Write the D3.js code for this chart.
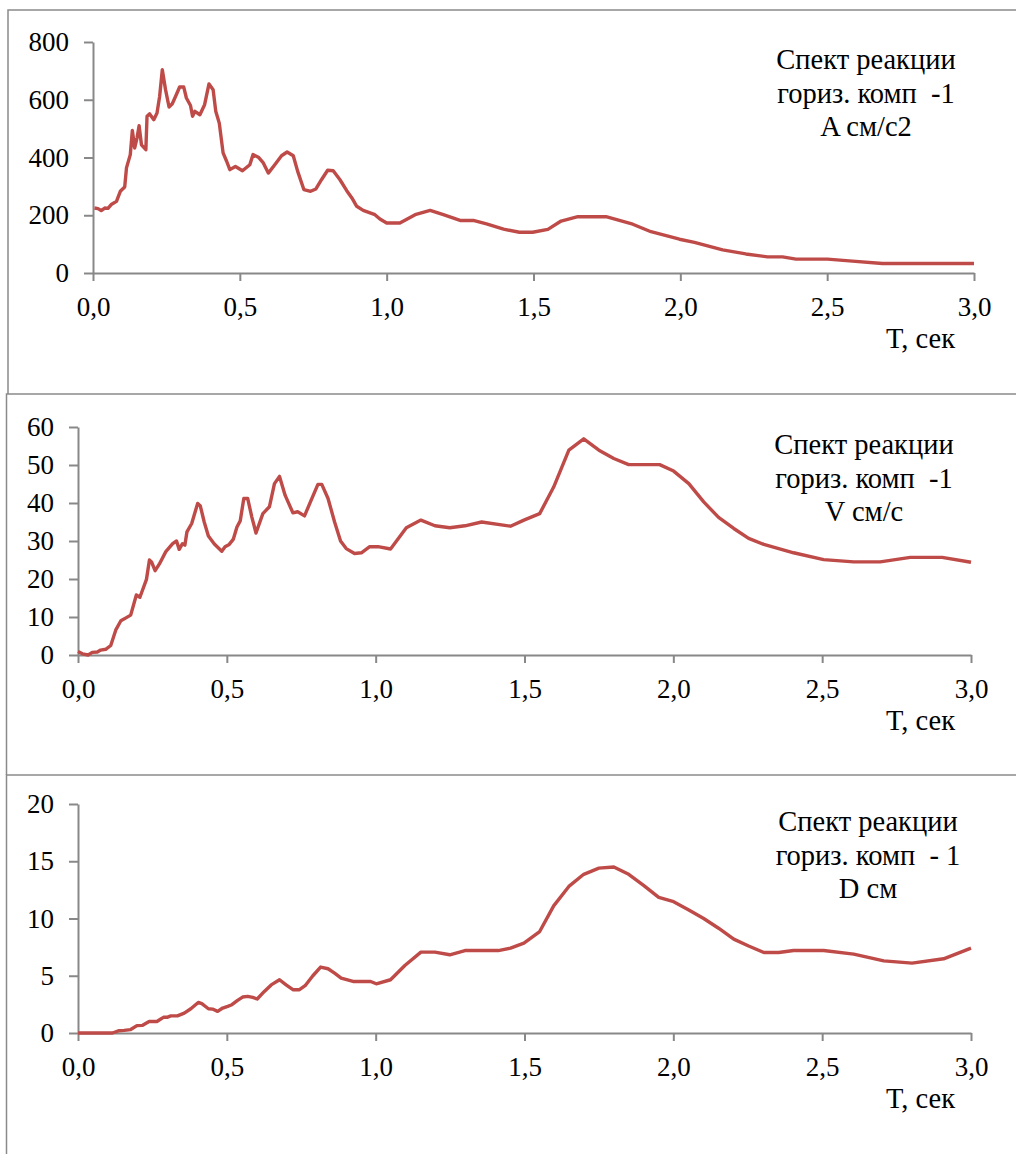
<!DOCTYPE html>
<html>
<head>
<meta charset="utf-8">
<script src="https://cdn.jsdelivr.net/npm/d3@7"></script>
<style>
  html, body { margin: 0; padding: 0; background: #fff; }
  svg { display: block; }
  text { font-family: "Liberation Serif", "Times New Roman", serif; fill: #000; }
</style>
</head>
<body>
<svg id="chart" width="1016" height="1154"></svg>
<script>
// ---------- DATA ----------
const xTickValues = [0, 0.5, 1.0, 1.5, 2.0, 2.5, 3.0];
const xTickLabels = ["0,0", "0,5", "1,0", "1,5", "2,0", "2,5", "3,0"];
const xAxisTitle = "T, сек";

const yTicksA = [0, 200, 400, 600, 800];
const yTicksV = [0, 10, 20, 30, 40, 50, 60];
const yTicksD = [0, 5, 10, 15, 20];

const titleA = ["Спект реакции", "гориз. комп  -1", "A см/с2"];
const titleV = ["Спект реакции", "гориз. комп  -1", "V см/с"];
const titleD = ["Спект реакции", "гориз. комп  - 1", "D см"];

// [period T (s), spectral value]
const spectrumA = [
  [0.005,225],[0.017,223],[0.028,216],[0.04,225],[0.051,224],[0.062,237],[0.08,248],[0.093,283],
  [0.108,298],[0.114,364],[0.127,410],[0.134,494],[0.142,433],[0.15,468],[0.157,510],[0.165,444],
  [0.18,427],[0.184,543],[0.193,551],[0.207,531],[0.218,554],[0.227,612],[0.236,704],[0.247,635],
  [0.259,575],[0.27,586],[0.284,618],[0.295,644],[0.309,644],[0.318,606],[0.332,580],[0.339,543],
  [0.347,560],[0.364,548],[0.38,583],[0.395,655],[0.409,635],[0.418,560],[0.43,519],[0.443,416],
  [0.455,387],[0.466,358],[0.485,369],[0.509,354],[0.534,375],[0.545,410],[0.563,401],[0.58,381],
  [0.597,346],[0.619,375],[0.642,406],[0.661,419],[0.682,406],[0.697,352],[0.718,289],[0.741,283],
  [0.759,291],[0.778,323],[0.799,356],[0.818,354],[0.841,323],[0.864,285],[0.884,256],[0.898,231],
  [0.92,217],[0.96,202],[0.977,187],[1.0,173],[1.045,173],[1.097,202],[1.148,217],[1.193,202],
  [1.25,182],[1.295,182],[1.34,170],[1.398,152],[1.452,141],[1.497,141],[1.549,151],[1.594,180],
  [1.651,195],[1.747,195],[1.838,169],[1.9,143],[1.997,117],[2.048,106],[2.144,80],[2.223,66],
  [2.297,56],[2.348,56],[2.394,48],[2.501,48],[2.586,41],[2.688,33],[3.0,33]
];

const spectrumV = [
  [0.0,0.9],[0.015,0.3],[0.034,0.0],[0.048,0.7],[0.065,0.8],[0.076,1.3],[0.093,1.5],[0.11,2.5],
  [0.127,6.6],[0.144,9.0],[0.164,9.9],[0.177,10.5],[0.196,15.8],[0.208,15.2],[0.23,19.9],[0.24,25.0],
  [0.247,24.5],[0.259,22.2],[0.273,23.9],[0.295,27.2],[0.318,29.3],[0.331,30.0],[0.34,27.8],[0.351,29.3],
  [0.359,28.9],[0.366,32.4],[0.382,34.6],[0.402,39.9],[0.411,39.2],[0.424,35.0],[0.438,31.3],[0.458,29.2],
  [0.483,27.3],[0.494,28.5],[0.508,29.1],[0.522,30.5],[0.534,33.7],[0.545,35.3],[0.557,41.2],[0.57,41.2],
  [0.584,36.3],[0.598,32.1],[0.621,37.2],[0.643,39.0],[0.66,45.1],[0.677,47.0],[0.696,42.0],[0.722,37.4],
  [0.738,37.7],[0.761,36.6],[0.783,40.7],[0.806,44.9],[0.819,44.9],[0.84,41.2],[0.862,35.0],[0.882,30.0],
  [0.901,28.0],[0.929,26.7],[0.952,26.9],[0.98,28.5],[1.008,28.5],[1.05,27.9],[1.103,33.5],[1.152,35.5],
  [1.199,34.0],[1.249,33.5],[1.3,34.0],[1.356,35.0],[1.453,33.9],[1.498,35.5],[1.551,37.2],[1.598,44.2],
  [1.649,53.9],[1.699,56.9],[1.75,53.9],[1.8,51.7],[1.85,50.1],[1.954,50.1],[2.001,48.4],[2.052,45.1],
  [2.102,40.3],[2.152,36.2],[2.203,33.3],[2.253,30.7],[2.304,29.1],[2.354,28.0],[2.404,26.9],[2.505,25.1],
  [2.606,24.5],[2.695,24.5],[2.796,25.7],[2.903,25.7],[3.0,24.4]
];

const spectrumD = [
  [0.0,0.0],[0.116,0.0],[0.138,0.2],[0.155,0.23],[0.177,0.3],[0.198,0.64],[0.217,0.67],[0.239,1.0],
  [0.265,1.0],[0.287,1.37],[0.299,1.37],[0.312,1.5],[0.334,1.5],[0.357,1.74],[0.379,2.12],[0.404,2.67],
  [0.416,2.56],[0.438,2.12],[0.452,2.09],[0.469,1.89],[0.486,2.18],[0.503,2.33],[0.517,2.47],[0.536,2.85],
  [0.553,3.14],[0.57,3.2],[0.587,3.11],[0.602,2.97],[0.626,3.63],[0.649,4.2],[0.677,4.65],[0.699,4.2],
  [0.722,3.78],[0.744,3.78],[0.763,4.13],[0.789,5.0],[0.815,5.76],[0.84,5.61],[0.862,5.23],[0.884,4.8],
  [0.924,4.5],[0.983,4.5],[1.002,4.3],[1.05,4.65],[1.098,5.9],[1.152,7.06],[1.199,7.06],[1.249,6.83],
  [1.3,7.2],[1.356,7.2],[1.412,7.2],[1.453,7.41],[1.498,7.85],[1.551,8.86],[1.598,11.1],[1.649,12.8],
  [1.699,13.86],[1.75,14.4],[1.8,14.5],[1.85,13.86],[1.9,12.9],[1.951,11.85],[2.001,11.47],[2.052,10.75],
  [2.102,10.0],[2.152,9.15],[2.203,8.2],[2.253,7.6],[2.304,7.03],[2.354,7.03],[2.404,7.2],[2.505,7.2],
  [2.606,6.89],[2.707,6.3],[2.802,6.1],[2.908,6.48],[3.0,7.41]
];

// ---------- LAYOUT ----------
const panels = [
  { data: spectrumA, yTicks: yTicksA, title: titleA,
    frame: { x: 8, y: 10, bottom: 394 },
    plot: { left: 93, right: 974, top: 42, bottom: 273 }, titleX: 866 },
  { data: spectrumV, yTicks: yTicksV, title: titleV,
    frame: { x: 6.5, y: 394, bottom: 775 },
    plot: { left: 78, right: 971, top: 427, bottom: 655 }, titleX: 864 },
  { data: spectrumD, yTicks: yTicksD, title: titleD,
    frame: { x: 6.5, y: 775, bottom: 1160 },
    plot: { left: 78, right: 971, top: 804, bottom: 1033 }, titleX: 868 }
];

const svg = d3.select("#chart");
const axisColor = "#888888";
const frameColor = "#8a8a8a";
const lineColor = "#BE4B48";
const tickFont = 27;
const titleFont = 28.5;
const fam = "Liberation Serif, Times New Roman, serif";

panels.forEach(p => {
  const g = svg.append("g");

  // frame (top + left edges visible, right edge beyond view)
  g.append("path")
    .attr("d", `M${p.frame.x},${p.frame.bottom} L${p.frame.x},${p.frame.y} L1030,${p.frame.y}`)
    .attr("fill", "none").attr("stroke", frameColor).attr("stroke-width", 1.5);

  const x = d3.scaleLinear().domain([0, 3]).range([p.plot.left, p.plot.right]);
  const yMax = p.yTicks[p.yTicks.length - 1];
  const y = d3.scaleLinear().domain([0, yMax]).range([p.plot.bottom, p.plot.top]);

  // Y axis
  const yAxis = d3.axisLeft(y).tickValues(p.yTicks).tickSize(9).tickPadding(15)
    .tickFormat(d => String(d)).tickSizeOuter(0);
  const gy = g.append("g").attr("transform", `translate(${p.plot.left},0)`).call(yAxis);
  gy.select(".domain").attr("stroke", axisColor).attr("stroke-width", 2);
  gy.selectAll(".tick line").attr("stroke", axisColor).attr("stroke-width", 2);
  gy.selectAll(".tick text").attr("font-size", tickFont).attr("font-family", fam).attr("fill", "#000");

  // X axis
  const xAxis = d3.axisBottom(x).tickValues(xTickValues).tickSize(8).tickPadding(16)
    .tickFormat((d, i) => xTickLabels[i]).tickSizeOuter(0);
  const gx = g.append("g").attr("transform", `translate(0,${p.plot.bottom})`).call(xAxis);
  gx.select(".domain").attr("stroke", axisColor).attr("stroke-width", 2);
  gx.selectAll(".tick line").attr("stroke", axisColor).attr("stroke-width", 2);
  gx.selectAll(".tick text").attr("font-size", tickFont).attr("font-family", fam).attr("fill", "#000");

  // X axis title
  g.append("text")
    .attr("x", 955).attr("y", p.plot.bottom + 75)
    .attr("text-anchor", "end").attr("font-size", titleFont)
    .text(xAxisTitle);

  // curve
  const line = d3.line().x(d => x(d[0])).y(d => y(d[1]));
  g.append("path").datum(p.data)
    .attr("d", line)
    .attr("fill", "none").attr("stroke", lineColor)
    .attr("stroke-width", 3.4).attr("stroke-linejoin", "round").attr("stroke-linecap", "butt");

  // title block
  const t = g.append("text").attr("text-anchor", "middle").attr("font-size", titleFont)
    .style("white-space", "pre");
  p.title.forEach((s, i) => {
    t.append("tspan").attr("x", p.titleX).attr("y", p.plot.top + 27 + i * 33.5).text(s);
  });
});
</script>
</body>
</html>
